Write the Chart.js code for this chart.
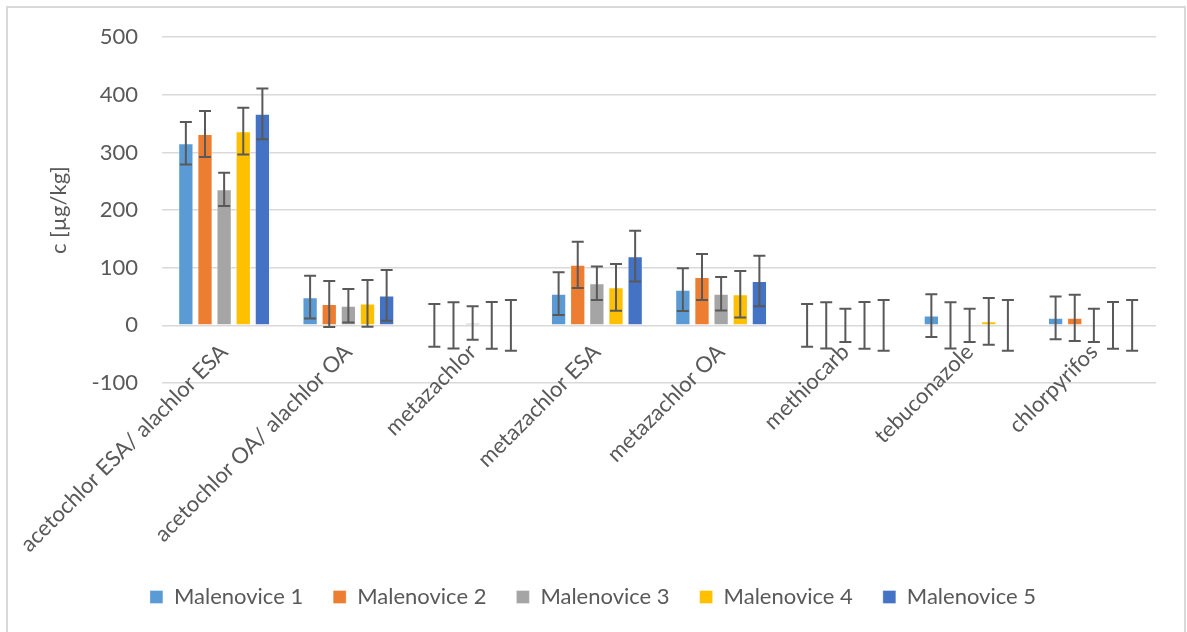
<!DOCTYPE html>
<html>
<head>
<meta charset="utf-8">
<script src="https://cdn.jsdelivr.net/npm/chart.js@4.4.1/dist/chart.umd.min.js"></script>
<style>
  html, body { margin: 0; padding: 0; background: #ffffff; }
  #wrap { position: relative; width: 1187px; height: 632px; overflow: hidden; }
  #frame { position: absolute; left: 6px; top: 6px; width: 1176px; height: 700px;
           border: 2px solid #d9d9d9; pointer-events: none; }
  canvas { position: absolute; left: 0; top: 0; }
</style>
</head>
<body>
<div id="wrap">
  <canvas id="chart" width="1187" height="632"></canvas>
  <div id="frame"></div>
</div>
<script>
// Pesticide concentrations per sampling site
const categories = [
  'acetochlor ESA/ alachlor ESA',
  'acetochlor OA/ alachlor OA',
  'metazachlor',
  'metazachlor ESA',
  'metazachlor OA',
  'methiocarb',
  'tebuconazole',
  'chlorpyrifos'
];
const seriesNames = ['Malenovice 1', 'Malenovice 2', 'Malenovice 3', 'Malenovice 4', 'Malenovice 5'];
const malenovice1 = [316, 49, 0, 55, 62, 0, 17, 13];
const malenovice2 = [332, 37, 0, 105, 84, 0, 0, 13];
const malenovice3 = [236, 34, 4, 73, 55, 0, 0, 0];
const malenovice4 = [337, 38, 0, 66, 54, 0, 7, 0];
const malenovice5 = [367, 52, 0, 120, 77, 0, 0, 0];
// Uncertainty (±) of each site's measurements
const errorMargins = [37, 40, 29, 40.5, 44];
const yTicks = [-100, 0, 100, 200, 300, 400, 500];
const yTitle = 'c [µg/kg]';

const seriesValues = [malenovice1, malenovice2, malenovice3, malenovice4, malenovice5];
const seriesColors = ['#5b9bd5', '#ed7d31', '#a5a5a5', '#ffc000', '#4472c4'];
const textColor = '#595959';
const fontFamily = 'Lato, "Open Sans", sans-serif';
const fontSize = 22;

// Draws ± error bars with caps on every bar
const errorBarPlugin = {
  id: 'errorBars',
  afterDatasetsDraw(chart) {
    const ctx = chart.ctx;
    const y = chart.scales.y;
    ctx.save();
    ctx.strokeStyle = '#595959';
    ctx.lineWidth = 2;
    chart.data.datasets.forEach((ds, di) => {
      const meta = chart.getDatasetMeta(di);
      const err = errorMargins[di];
      meta.data.forEach((bar, i) => {
        const v = ds.data[i];
        const x = bar.x;
        const top = y.getPixelForValue(v + err);
        const bot = y.getPixelForValue(v - err);
        const cap = 6;
        ctx.beginPath();
        ctx.moveTo(x, top); ctx.lineTo(x, bot);
        ctx.moveTo(x - cap, top); ctx.lineTo(x + cap, top);
        ctx.moveTo(x - cap, bot); ctx.lineTo(x + cap, bot);
        ctx.stroke();
      });
    });
    ctx.restore();
  }
};

const PLOT_LEFT = 162;
const PLOT_BOTTOM = 383;
const PAD = { left: 30, right: 31, top: 37, bottom: 14 };

new Chart(document.getElementById('chart'), {
  type: 'bar',
  data: {
    labels: categories,
    datasets: seriesNames.map((name, i) => ({
      label: name,
      data: seriesValues[i],
      backgroundColor: seriesColors[i],
      borderColor: 'rgba(255,255,255,0.35)',
      borderWidth: 1,
      categoryPercentage: 0.77,
      barPercentage: 0.8
    }))
  },
  options: {
    responsive: false,
    animation: false,
    devicePixelRatio: 1,
    layout: { padding: PAD },
    plugins: {
      legend: {
        position: 'bottom',
        labels: {
          color: textColor,
          font: { family: fontFamily, size: fontSize },
          boxWidth: 13,
          boxHeight: 13,
          padding: 30
        }
      },
      tooltip: { enabled: false }
    },
    scales: {
      x: {
        grid: { display: false },
        border: { display: false },
        ticks: {
          color: textColor,
          font: { family: fontFamily, size: fontSize },
          autoSkip: false,
          minRotation: 45,
          maxRotation: 45,
          padding: -52
        },
        afterFit(scale) {
          const legendH = scale.chart.legend ? scale.chart.legend.height : 0;
          scale.height = scale.chart.height - PAD.bottom - legendH - PLOT_BOTTOM;
          // category labels sit partly above the axis box, so they are not clipped to it
          scale._computeLabelArea = () => undefined;
        }
      },
      y: {
        min: -100,
        max: 500,
        afterBuildTicks(scale) {
          scale.ticks = yTicks.map(v => ({ value: v }));
        },
        grid: { color: '#d9d9d9', lineWidth: 1.5, drawTicks: false },
        border: { display: false },
        ticks: {
          color: textColor,
          font: { family: fontFamily, size: fontSize },
          padding: 24
        },
        title: {
          display: true,
          text: yTitle,
          color: textColor,
          font: { family: fontFamily, size: fontSize },
          padding: { top: 16, bottom: 0 }
        },
        afterFit(scale) {
          scale.width = PLOT_LEFT - PAD.left;
        }
      }
    }
  },
  plugins: [errorBarPlugin]
});
</script>
</body>
</html>
